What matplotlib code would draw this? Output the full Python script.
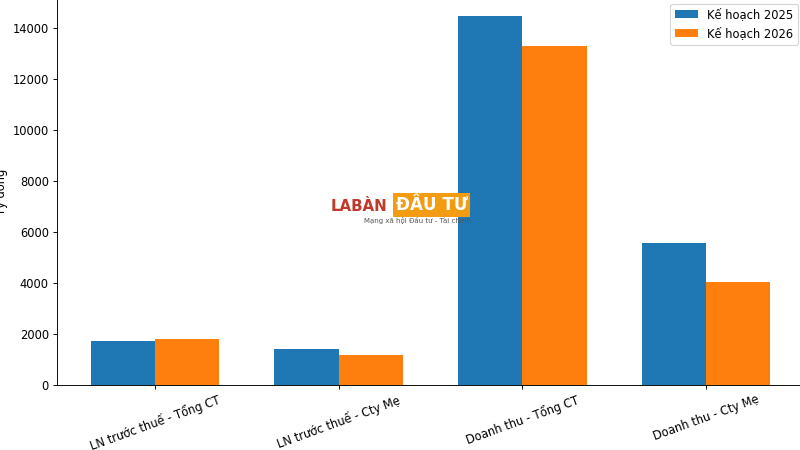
import matplotlib
matplotlib.use("Agg")
import matplotlib.pyplot as plt
import numpy as np

categories = ["LN trước thuế - Tổng CT", "LN trước thuế - Cty Mẹ",
              "Doanh thu - Tổng CT", "Doanh thu - Cty Mẹ"]
plan_2025 = [1725, 1400, 14450, 5580]
plan_2026 = [1790, 1176, 13290, 4050]
series_labels = ["Kế hoạch 2025", "Kế hoạch 2026"]
ylabel = "Tỷ đồng"

DPI = 83
fig = plt.figure(figsize=(800/DPI, 450/DPI), dpi=DPI)
ax = fig.add_axes([57/800, 65/450, 747/800, 387/450])
x = np.arange(len(categories))
w = 0.35
ax.bar(x - w/2, plan_2025, w, label=series_labels[0], color="#1f77b4")
ax.bar(x + w/2, plan_2026, w, label=series_labels[1], color="#ff7f0e")
ax.set_xticks(x)
ax.set_xticklabels(categories, rotation=20)
ax.set_ylabel(ylabel)
ax.legend(loc="upper right")

# watermark
fig.text(331/800, 1 - 206/450, "LABÀN", color="#c0392b", fontsize=13,
         fontweight="bold", va="center", ha="left")
fig.text(396/800, 1 - 205/450, "ĐẦU TƯ", color="white", fontsize=14.5,
         fontweight="bold", va="center", ha="left",
         bbox=dict(boxstyle="square,pad=0.15", fc="#f39c12", ec="none"))
fig.text(364/800, 1 - 220/450, "Mạng xã hội Đầu tư - Tài chính", color="#555555",
         fontsize=6.1, va="center", ha="left")

fig.savefig("out.png", dpi=DPI)
